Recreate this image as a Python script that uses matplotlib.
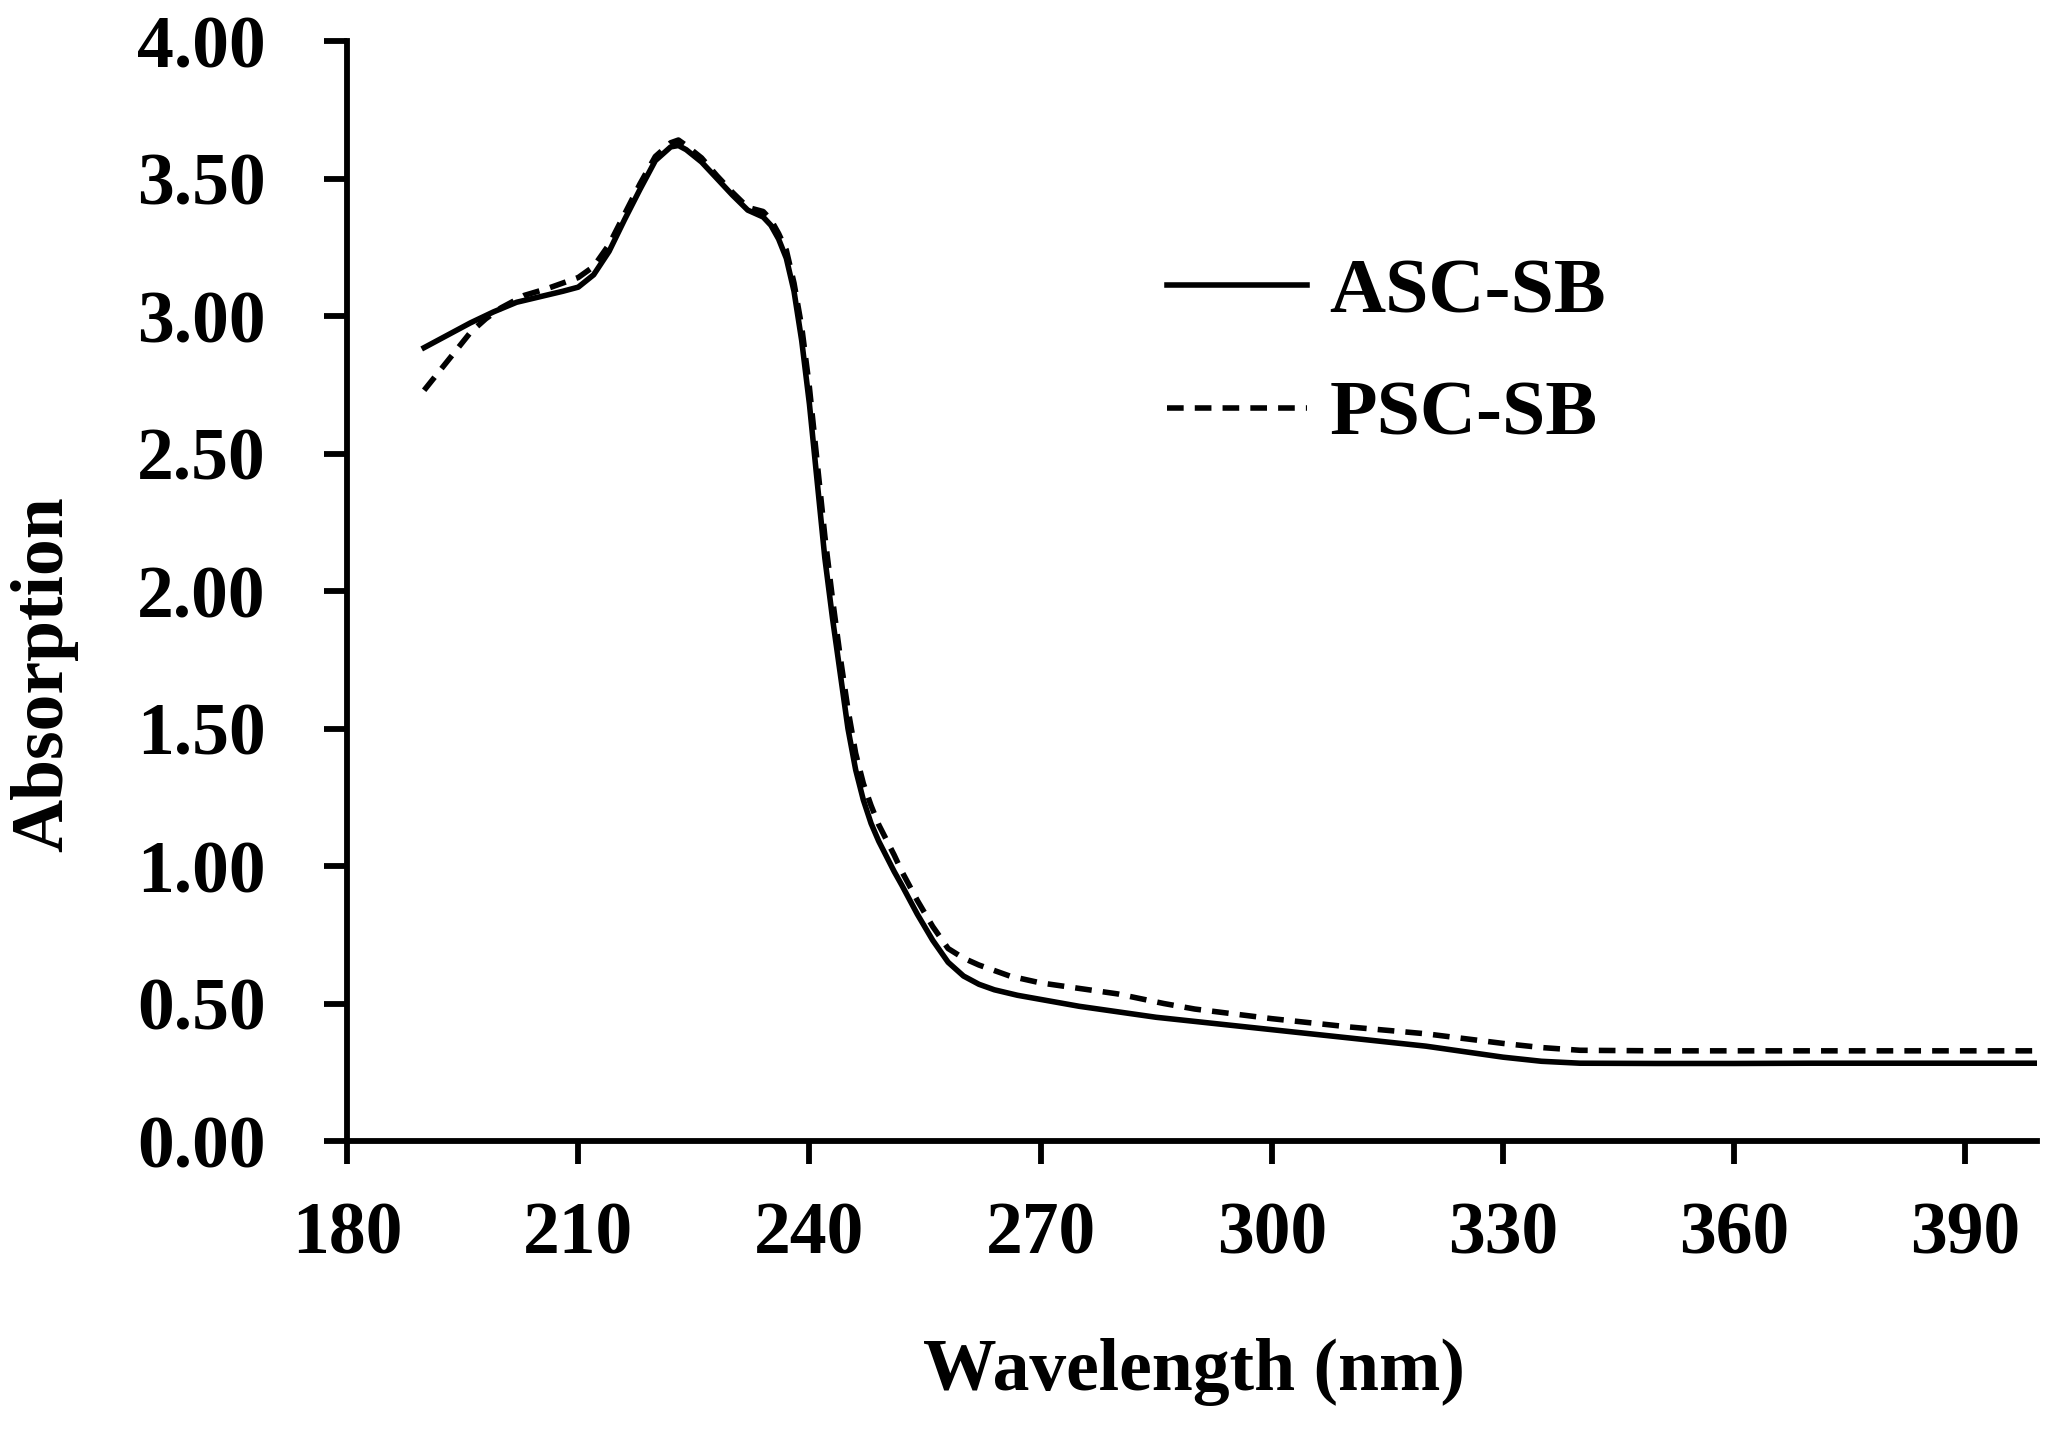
import numpy as np
import matplotlib.pyplot as plt

plt.rcParams['font.family'] = ['Liberation Serif', 'DejaVu Serif']
plt.rcParams['font.weight'] = 'bold'

# wavelength (nm) and absorption
wl_asc = [190, 193, 196, 199, 202, 205, 208, 210, 212, 214, 216, 218, 220, 222, 223,
          224, 226, 228, 230, 232, 234, 235, 236, 237, 238, 239, 240, 241, 242, 243,
          244, 245, 246, 247, 248, 249, 250, 251, 252, 254, 256, 258, 260, 262, 264,
          267, 270, 275, 280, 285, 290, 295, 300, 310, 320, 330, 335, 340, 350, 360,
          370, 380, 390, 399]
abs_asc = [2.885, 2.93, 2.975, 3.015, 3.05, 3.07, 3.09, 3.105, 3.15, 3.235, 3.35, 3.46,
           3.565, 3.615, 3.62, 3.605, 3.56, 3.50, 3.44, 3.385, 3.36, 3.33, 3.28, 3.21,
           3.09, 2.91, 2.68, 2.40, 2.12, 1.90, 1.70, 1.50, 1.35, 1.24, 1.155, 1.09,
           1.035, 0.98, 0.93, 0.825, 0.73, 0.65, 0.60, 0.57, 0.55, 0.53, 0.515, 0.49,
           0.47, 0.45, 0.435, 0.42, 0.405, 0.375, 0.345, 0.305, 0.29, 0.283, 0.282,
           0.282, 0.283, 0.283, 0.283, 0.283]

wl_psc = [190, 192, 194, 196, 198, 200, 203, 206, 208, 210, 212, 214, 216, 218, 220,
          222, 223, 224, 226, 228, 230, 232, 234, 235, 236, 237, 238, 239, 240, 241,
          242, 243, 244, 245, 246, 247, 248, 249, 250, 251, 252, 254, 256, 258, 260,
          262, 264, 266, 270, 275, 280, 286, 290, 300, 310, 320, 330, 335, 340, 350,
          360, 370, 380, 390, 399]
abs_psc = [2.73, 2.80, 2.87, 2.94, 2.99, 3.03, 3.075, 3.10, 3.12, 3.14, 3.18, 3.26,
           3.37, 3.48, 3.58, 3.63, 3.64, 3.62, 3.575, 3.51, 3.45, 3.395, 3.38, 3.35,
           3.30, 3.24, 3.12, 2.96, 2.74, 2.47, 2.20, 1.97, 1.76, 1.57, 1.41, 1.30, 1.22,
           1.15, 1.095, 1.04, 0.98, 0.875, 0.78, 0.70, 0.665, 0.64, 0.62, 0.60, 0.575,
           0.555, 0.535, 0.50, 0.48, 0.445, 0.415, 0.39, 0.355, 0.34, 0.33, 0.328,
           0.328, 0.328, 0.328, 0.328, 0.328]

x_ticks = [180, 210, 240, 270, 300, 330, 360, 390]
y_ticks = [0.0, 0.5, 1.0, 1.5, 2.0, 2.5, 3.0, 3.5, 4.0]

fig = plt.figure(figsize=(20.55, 14.34), dpi=100)
ax = fig.add_axes([0.1689, 0.2043, 0.8223, 0.7671])

ax.plot(wl_asc, abs_asc, color='black', lw=4.0, label='ASC-SB')
ax.plot(wl_psc, abs_psc, color='black', lw=4.0, dashes=(3.0, 2.0), label='PSC-SB')

ax.set_xlim(180, 399.3)
ax.set_ylim(0, 4)
ax.set_xticks(x_ticks)
ax.set_yticks(y_ticks)
ax.set_yticklabels(['%.2f' % v for v in y_ticks])

for s in ['top', 'right']:
    ax.spines[s].set_visible(False)
for s in ['left', 'bottom']:
    ax.spines[s].set_linewidth(4.2)
    ax.spines[s].set_capstyle('projecting')

ax.tick_params(axis='both', direction='out', length=16.5, width=4.2,
               labelsize=53, color='black')
ax.tick_params(axis='x', pad=27)
ax.tick_params(axis='y', pad=42)
for lbl in ax.get_xticklabels() + ax.get_yticklabels():
    lbl.set_fontweight('bold')

fig.text(44 / 2055, 1 - 674 / 1434, 'Absorption', rotation=90, fontsize=53,
         fontweight='bold', ha='center', va='center')
fig.text(1194 / 2055, 1 - 1390 / 1434, 'Wavelength (nm)', fontsize=53,
         fontweight='bold', ha='center', va='baseline')

leg = ax.legend(loc='upper left', bbox_to_anchor=(0.485, 0.803), frameon=False,
                fontsize=56, handlelength=1.81, handletextpad=0.28,
                labelspacing=0.66, borderpad=0, borderaxespad=0)
for t in leg.get_texts():
    t.set_fontweight('bold')

fig.savefig('out.png', dpi=100)
